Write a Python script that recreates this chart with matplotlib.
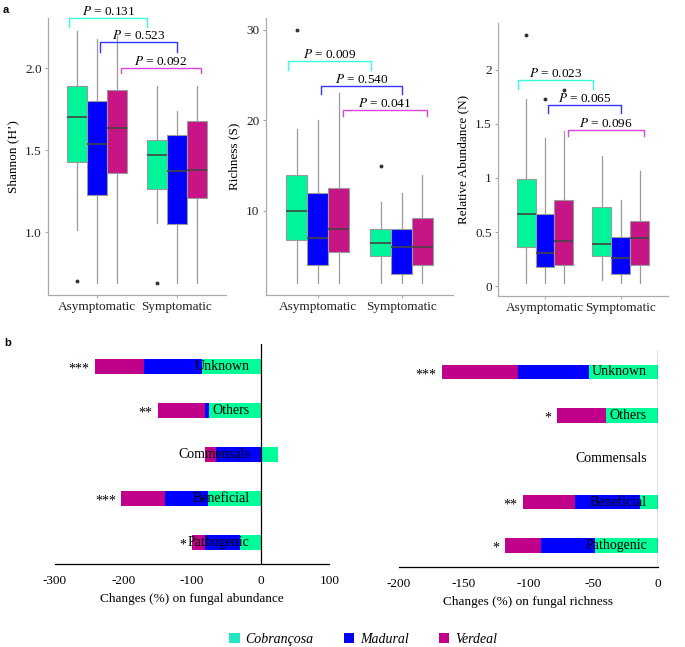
import numpy as np
import matplotlib
matplotlib.use("Agg")
import matplotlib.pyplot as plt
from matplotlib.patches import Patch

plt.rcParams['font.family'] = ['Liberation Serif', 'DejaVu Serif']
plt.rcParams['mathtext.fontset'] = 'stix'
plt.rcParams['font.size'] = 9.5
plt.rcParams['axes.unicode_minus'] = False

# ---- panel a data (order: Asym C, M, V, Symp C, M, V)
groups = ["Asymptomatic", "Symptomatic"]
cultivars = ["Cobrançosa", "Madural", "Verdeal"]

sh_lo = [1.01, 0.69, 0.69, 1.055, 0.69, 0.69]
sh_q1 = [1.425, 1.225, 1.36, 1.26, 1.05, 1.205]
sh_med = [1.70, 1.535, 1.635, 1.47, 1.37, 1.38]
sh_q3 = [1.89, 1.80, 1.865, 1.56, 1.59, 1.675]
sh_hi = [2.225, 2.18, 2.195, 1.89, 1.74, 1.89]
sh_out = [[0.70], [], [], [0.69], [], []]
sh_p = ["0.131", "0.523", "0.092"]

ri_lo = [2, 2, 2, 2, 2, 2]
ri_q1 = [6.8, 4, 5.5, 5, 3, 4]
ri_med = [10, 7, 8, 6.5, 6, 6]
ri_q3 = [14, 12, 12.5, 8, 8, 9.2]
ri_hi = [19, 20, 23, 11, 12, 14]
ri_out = [[30], [], [], [15], [], []]
ri_p = ["0.009", "0.540", "0.041"]

ra_lo = [0.03, 0.03, 0.03, 0.06, 0.03, 0.03]
ra_q1 = [0.36, 0.18, 0.20, 0.28, 0.11, 0.20]
ra_med = [0.665, 0.31, 0.42, 0.39, 0.26, 0.445]
ra_q3 = [0.99, 0.67, 0.80, 0.73, 0.45, 0.60]
ra_hi = [1.73, 1.37, 1.43, 1.20, 0.80, 1.06]
ra_out = [[2.32], [1.73], [1.81], [], [], []]
ra_p = ["0.023", "0.065", "0.096"]

# ---- panel b data
categories = ["Unknown", "Others", "Commensals", "Beneficial", "Pathogenic"]
abund_C = [-86, -76, 25, -77, -30]
abund_M = [-84, -6, -65, -62, -52]
abund_V = [-72, -68, -16, -64, -18]
abund_sig = ["***", "**", "", "***", "*"]
rich_C = [-53, -40, 0, -14, -49]
rich_M = [-55, 0, 0, -50, -41]
rich_V = [-59, -38, 0, -40, -28]
rich_sig = ["***", "*", "", "**", "*"]

box_cols = ["#00F59A", "#0000FF", "#C71585"]
br_cols = ["#33FFDD", "#3333FF", "#DD44DD"]
bar_cols = ["#00FF99", "#0000FF", "#C0008A"]
leg_cols = ["#20E8C4", "#0000FF", "#C0008A"]

fig = plt.figure(figsize=(6.85, 6.47), dpi=100)


def boxpanel(rect, lo, q1, med, q3, hi, out, pvals, ylim, yticks, ylabels,
             ylab, br_y, br_tick):
    ax = fig.add_axes(rect)
    offs = [-0.25, 0, 0.25]
    pos = [g + o for g in [1, 2] for o in offs]
    stats = []
    for i in range(6):
        stats.append(dict(med=med[i], q1=q1[i], q3=q3[i], whislo=lo[i],
                          whishi=hi[i], fliers=out[i]))
    bp = ax.bxp(stats, positions=pos, widths=0.25, patch_artist=True,
                showcaps=False,
                boxprops=dict(edgecolor="#9a9a9a", linewidth=0.8),
                whiskerprops=dict(color="#9a9a9a", linewidth=0.9),
                medianprops=dict(color="#444444", linewidth=1.2),
                flierprops=dict(marker="o", markersize=1.8,
                                markerfacecolor="#333333",
                                markeredgecolor="#333333"))
    for i, b in enumerate(bp["boxes"]):
        b.set_facecolor(box_cols[i % 3])
    ax.set_xlim(0.38, 2.62)
    ax.set_ylim(*ylim)
    ax.set_xticks([1, 2])
    ax.set_xticklabels(groups)
    ax.set_yticks(yticks)
    ax.set_yticklabels(ylabels)
    ax.set_ylabel(ylab)
    for s in ["top", "right"]:
        ax.spines[s].set_visible(False)
    for s in ["left", "bottom"]:
        ax.spines[s].set_color("#aaaaaa")
        ax.spines[s].set_linewidth(0.9)
    ax.tick_params(length=2.5, color="#aaaaaa", labelcolor="#222222",
                   labelsize=9.5, pad=2)
    # significance brackets
    start_off = [-0.1, 0.04, 0.05]
    end_off = [-0.12, 0.0, 0.05]
    for k in range(3):
        x1 = 1 + offs[k] + start_off[k]
        x2 = 2 + offs[k] + end_off[k]
        y = br_y[k]
        t = br_tick[k]
        ax.plot([x1, x1, x2, x2], [y - t, y, y, y - t], color=br_cols[k],
                lw=1.0, clip_on=False)
        ax.text((x1 + x2) / 2, y, r"$P$ = " + pvals[k], ha="center",
                va="bottom", fontsize=9.5)
    return ax


boxpanel([0.070, 0.544, 0.260, 0.428], sh_lo, sh_q1, sh_med, sh_q3, sh_hi,
         sh_out, sh_p, (0.616, 2.305), [1.0, 1.5, 2.0], ["1.0", "1.5", "2.0"],
         "Shannon (H\u2019)", [2.305, 2.16, 2.0], [0.055, 0.06, 0.03])
boxpanel([0.388, 0.544, 0.274, 0.428], ri_lo, ri_q1, ri_med, ri_q3, ri_hi,
         ri_out, ri_p, (0.7, 31.3), [10, 20, 30], ["10", "20", "30"],
         "Richness (S)", [26.6, 23.8, 21.1], [1.0, 0.9, 0.6])
boxpanel([0.727, 0.5425, 0.248, 0.422], ra_lo, ra_q1, ra_med, ra_q3, ra_hi,
         ra_out, ra_p, (-0.09, 2.43), [0, 0.5, 1, 1.5, 2],
         ["0", "0.5", "1", "1.5", "2"], "Relative Abundance (N)",
         [1.90, 1.675, 1.44], [0.08, 0.075, 0.05])


def barpanel(rect, c, m, v, sig, xlim, xticks, xlab):
    ax = fig.add_axes(rect)
    y = np.arange(len(categories))
    pos_base = np.zeros(len(categories))
    neg_base = np.zeros(len(categories))
    for vals, col in zip([c, m, v], bar_cols):
        vals = np.array(vals, dtype=float)
        left = np.where(vals >= 0, pos_base, neg_base)
        ax.barh(y, vals, left=left, height=0.34, color=col, linewidth=0)
        pos_base = pos_base + np.clip(vals, 0, None)
        neg_base = neg_base + np.clip(vals, None, 0)
    for i, cat in enumerate(categories):
        ax.annotate(cat, xy=(0, y[i]), xytext=(-8, 0),
                    textcoords="offset points", ha="right", va="center",
                    fontsize=10, zorder=5)
        if sig[i]:
            ax.annotate(sig[i], xy=(neg_base[i], y[i]), xytext=(-4, -2),
                        textcoords="offset points", ha="right", va="center",
                        fontsize=10)
    ax.axvline(0, color="black", lw=0.9)
    ax.set_xlim(*xlim)
    ax.set_ylim(4.5, -0.5)
    ax.set_xticks(xticks)
    ax.set_yticks([])
    for s in ["top", "right", "left"]:
        ax.spines[s].set_visible(False)
    ax.spines["bottom"].set_linewidth(0.9)
    ax.tick_params(axis="x", length=0, pad=8, labelsize=9.5)
    ax.set_xlabel(xlab, labelpad=4)
    return ax


barpanel([0.080, 0.128, 0.401, 0.340], abund_C, abund_M, abund_V, abund_sig,
         (-300, 100), [-300, -200, -100, 0, 100],
         "Changes (%) on fungal abundance")
barpanel([0.5825, 0.1236, 0.378, 0.335], rich_C, rich_M, rich_V, rich_sig,
         (-200, 0), [-200, -150, -100, -50, 0],
         "Changes (%) on fungal richness")

fig.text(0.004, 0.993, "a", fontsize=8, fontweight="bold",
         family="Liberation Sans", va="top")
fig.text(0.006, 0.478, "b", fontsize=8, fontweight="bold",
         family="Liberation Sans", va="top")

handles = [Patch(facecolor=col, edgecolor="none") for col in leg_cols]
leg = fig.legend(handles, cultivars, loc="center", bbox_to_anchor=(0.53, 0.012),
                 ncol=3, frameon=False, handlelength=0.75, handleheight=0.75,
                 handletextpad=0.4, columnspacing=2.2,
                 prop=dict(style="italic", size=10))

fig.savefig("out.png", dpi=100)
